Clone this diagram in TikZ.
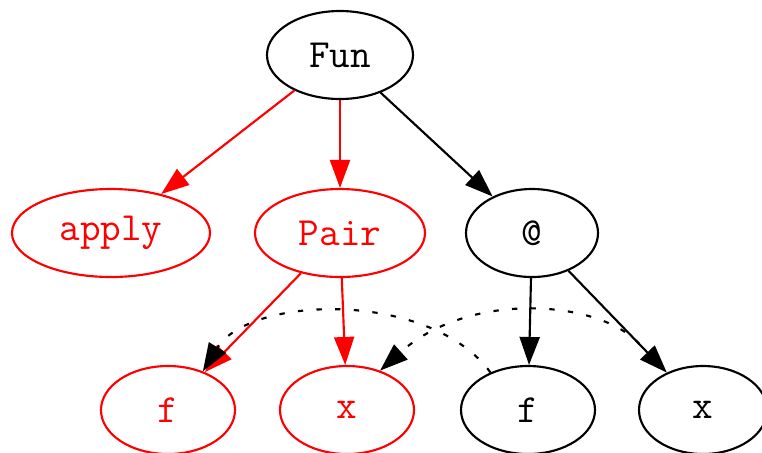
\documentclass[tikz,border=0pt]{standalone}
\usetikzlibrary{shapes.geometric,arrows.meta}
\tikzset{
  tnode/.style={ellipse, draw, line width=0.8pt, inner sep=0pt,
    minimum height=88*0.375pt, font=\fontsize{15}{18}\selectfont\ttfamily},
  rnode/.style={tnode, draw=red, text=red},
  tedge/.style={line width=0.8pt, -{Triangle[length=10.5pt,width=7.5pt]}},
  redge/.style={tedge, red},
  dedge/.style={tedge, dash pattern=on 2pt off 5pt},
}
\begin{document}
\begin{tikzpicture}[x=0.375pt,y=-0.375pt]
\useasboundingbox (0,0) rectangle (762,452);
%top row
\node[tnode, minimum width=146*0.375pt] (fun) at (340,55) {Fun};
%middle row
\node[rnode, minimum width=198*0.375pt] (apply) at (111,233) {apply};
\node[rnode, minimum width=170*0.375pt] (pair) at (340,233) {Pair};
\node[tnode, minimum width=132*0.375pt] (app) at (532,233) {@};
%bottom row
\node[rnode, minimum width=134*0.375pt] (rf) at (168,410) {f};
\node[rnode, minimum width=134*0.375pt] (rx) at (347,410) {x};
\node[tnode, minimum width=134*0.375pt] (bf) at (528,410) {f};
\node[tnode, minimum width=128*0.375pt] (bx) at (703,410) {x};
\draw[redge] (fun) -- (apply);
\draw[redge] (fun) -- (pair);
\draw[tedge] (fun) -- (app);
\draw[redge] (pair) -- (rf);
\draw[redge] (pair) -- (rx);
\draw[tedge] (app) -- (bf);
\draw[tedge] (app) -- coordinate[pos=0.72] (xtail) (bx);
%dotted links
\draw[dedge] (bf.135) .. controls (430,290) and (250,295) .. (rf.48);
\draw[dedge] (xtail) .. controls (600,300) and (470,290) .. (rx.50);
\end{tikzpicture}
\end{document}
